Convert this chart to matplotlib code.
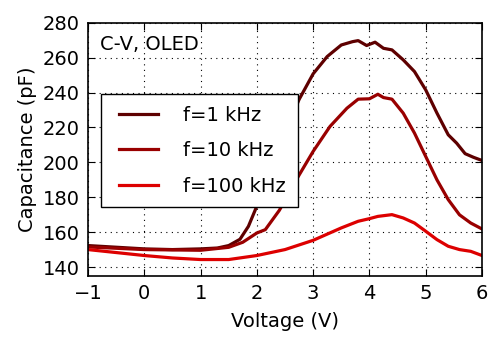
import matplotlib
matplotlib.use("Agg")
import numpy as np
import matplotlib.pyplot as plt
from matplotlib.legend_handler import HandlerLine2D

v1 = [-1, 0, 0.5, 1, 1.3, 1.5, 1.7, 1.85, 2, 2.2, 2.5, 2.75, 3, 3.25, 3.5, 3.7, 3.8, 3.95, 4.1, 4.25, 4.4, 4.6, 4.8, 5, 5.2, 5.4, 5.55, 5.7, 5.85, 6]
c1 = [152.4, 150.5, 150.1, 150.5, 151, 152.4, 156, 163.4, 175, 192, 216.8, 236, 250.7, 260.6, 267.2, 269.1, 269.7, 266.9, 268.8, 265.3, 264.4, 258.7, 252, 241.5, 228.2, 215.8, 211, 205, 202.9, 201.1]

v2 = [-1, 0, 1, 1.5, 1.75, 2, 2.15, 2.4, 2.7, 3, 3.3, 3.6, 3.8, 4.0, 4.15, 4.25, 4.4, 4.6, 4.8, 5, 5.2, 5.4, 5.6, 5.8, 6]
c2 = [151.6, 150.1, 149.7, 151.4, 154.3, 159.6, 161.5, 172.6, 190, 206.3, 220.6, 231, 236.2, 236.4, 239, 237.1, 236.2, 228.2, 216.8, 203.4, 190, 178.7, 170, 165.3, 161.9]

v3 = [-1, 0, 0.5, 1, 1.5, 2, 2.5, 3, 3.5, 3.8, 4.0, 4.15, 4.4, 4.6, 4.8, 5, 5.2, 5.4, 5.6, 5.8, 6]
c3 = [150.1, 146.7, 145.3, 144.4, 144.4, 146.7, 150.1, 155.4, 162.5, 166.3, 167.8, 169.1, 170.1, 168.2, 165.3, 160.6, 155.8, 152, 150.1, 149.1, 146.7]

labels = ["f=1 kHz", "f=10 kHz", "f=100 kHz"]
colors = ["#5e0000", "#990000", "#dd0000"]
xticks = [-1, 0, 1, 2, 3, 4, 5, 6]
yticks = [140, 160, 180, 200, 220, 240, 260, 280]


class InsetLineHandler(HandlerLine2D):
    """Legend line handle drawn with a small left inset."""
    def create_artists(self, legend, orig_handle, xdescent, ydescent, width,
                       height, fontsize, trans):
        arts = super().create_artists(legend, orig_handle, xdescent, ydescent,
                                      width, height, fontsize, trans)
        inset = 5.0
        for a in arts:
            xd = np.asarray(a.get_xdata(), dtype=float)
            if len(xd) >= 2:
                a.set_xdata(np.linspace(xd[0] + inset, xd[-1], len(xd)))
        return arts


plt.rcParams['font.family'] = ['DejaVu Sans']
fig = plt.figure(figsize=(5, 3.48), dpi=100)
ax = fig.add_axes([0.176, 0.207, 0.788, 0.728])

lines = []
for v, c, lab, col in zip([v1, v2, v3], [c1, c2, c3], labels, colors):
    ln, = ax.plot(v, c, color=col, lw=2.3, label=lab)
    lines.append(ln)

ax.set_xlim(-1, 6)
ax.set_ylim(135, 280)
ax.set_xticks(xticks)
ax.set_yticks(yticks)
ax.tick_params(direction='in', top=True, right=True, labelsize=14, length=5, width=0.8, pad=6)
ax.grid(True, color='black', linestyle=(0, (1, 4)), linewidth=0.8)
for s in ax.spines.values():
    s.set_linewidth(1.2)
ax.set_xlabel("Voltage (V)", fontsize=14, labelpad=6)
ax.set_ylabel("Capacitance (pF)", fontsize=14)
ax.text(0.03, 0.95, "C-V, OLED", transform=ax.transAxes, fontsize=14, va='top', ha='left')
leg = ax.legend(loc='upper left', bbox_to_anchor=(0.032, 0.718), borderaxespad=0,
                fontsize=14, fancybox=False, handlelength=2.35, handletextpad=1.3,
                labelspacing=0.85, borderpad=0.6, framealpha=1,
                handler_map={ln: InsetLineHandler() for ln in lines})
leg.get_frame().set_edgecolor('black')
leg.get_frame().set_linewidth(1.0)

fig.savefig("out.png", dpi=100)
